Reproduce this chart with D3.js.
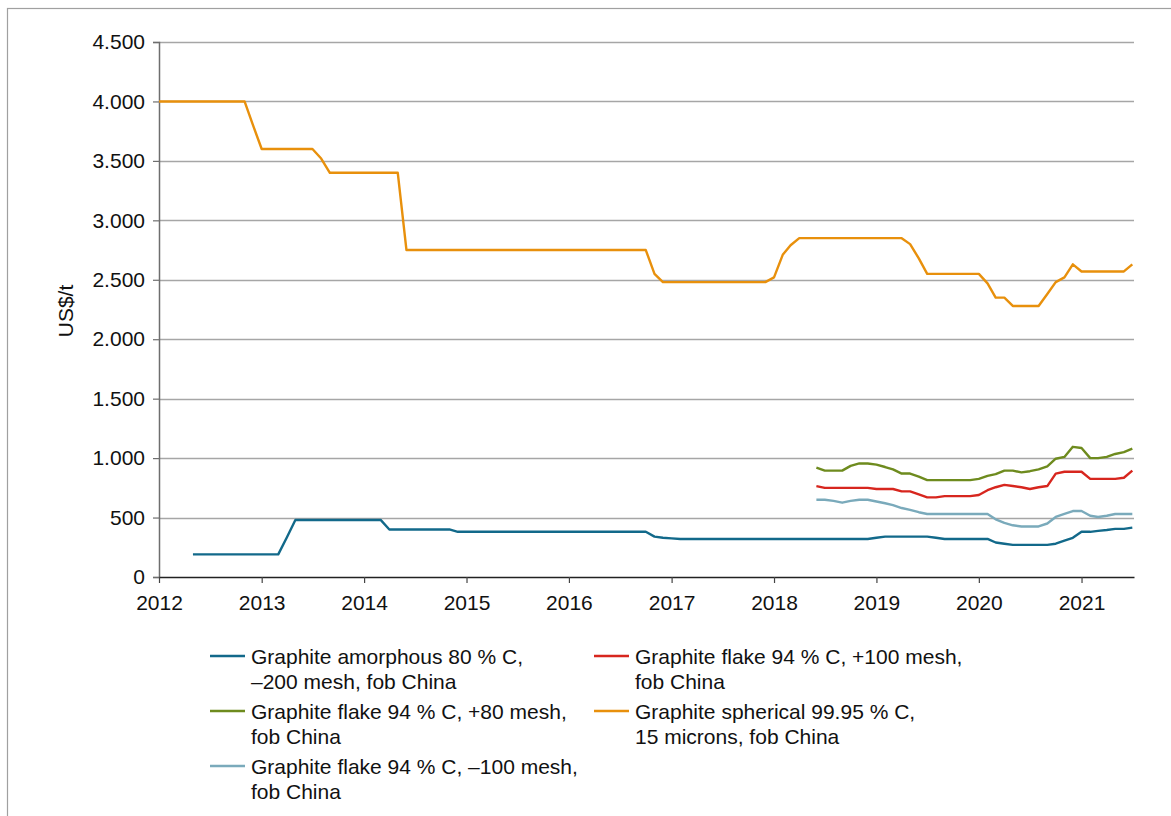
<!DOCTYPE html>
<html>
<head>
<meta charset="utf-8">
<script src="https://cdn.jsdelivr.net/npm/d3@7"></script>
<style>
  body { margin: 0; background: #fff; }
  svg text { font-family: "Liberation Sans", Arial, sans-serif; fill: #111; }
</style>
</head>
<body>
<div id="chart-area"></div>
<script>
// Monthly prices, US$/t. Each series lists values from its first month.
var yearTicks = [2012, 2013, 2014, 2015, 2016, 2017, 2018, 2019, 2020, 2021];
var yTicks = [0, 500, 1000, 1500, 2000, 2500, 3000, 3500, 4000, 4500];

var sphericalStart = "2012-01";
var spherical = [4000, 4000, 4000, 4000, 4000, 4000, 4000, 4000, 4000, 4000, 4000,
  3800, 3600, 3600, 3600, 3600, 3600, 3600, 3600, 3520,
  3400, 3400, 3400, 3400, 3400, 3400, 3400, 3400, 3400,
  2750, 2750, 2750, 2750, 2750, 2750, 2750, 2750, 2750, 2750, 2750, 2750, 2750, 2750, 2750,
  2750, 2750, 2750, 2750, 2750, 2750, 2750, 2750, 2750, 2750, 2750, 2750, 2750, 2750,
  2550, 2480, 2480, 2480, 2480, 2480, 2480, 2480, 2480, 2480, 2480, 2480, 2480, 2480,
  2520, 2710, 2790, 2850, 2850, 2850, 2850, 2850, 2850, 2850, 2850, 2850, 2850, 2850, 2850, 2850,
  2800, 2680, 2550, 2550, 2550, 2550, 2550, 2550, 2550, 2470, 2350, 2350,
  2280, 2280, 2280, 2280, 2380, 2480, 2520, 2630, 2570, 2570, 2570, 2570, 2570, 2570, 2630];

var amorphousStart = "2012-05";
var amorphous = [190, 190, 190, 190, 190, 190, 190, 190, 190, 190, 190,
  335, 480, 480, 480, 480, 480, 480, 480, 480, 480, 480, 480,
  400, 400, 400, 400, 400, 400, 400, 400,
  380, 380, 380, 380, 380, 380, 380, 380, 380, 380, 380, 380, 380, 380, 380, 380, 380, 380, 380, 380, 380, 380, 380,
  340, 330, 325,
  320, 320, 320, 320, 320, 320, 320, 320, 320, 320, 320, 320, 320, 320, 320, 320, 320, 320, 320, 320, 320, 320, 320,
  330, 340, 340, 340, 340, 340, 340, 330, 320, 320, 320, 320, 320, 320,
  290, 280, 270, 270, 270, 270, 270, 280, 305, 330, 380, 380, 388, 395, 405, 405, 415];

var flakeStart = "2018-06";
var flake80 = [920, 895, 895, 895, 935, 955, 955, 945, 925, 905, 870, 870, 845,
  815, 815, 815, 815, 815, 815, 825, 850, 865, 895, 895, 880, 890, 905, 930,
  995, 1010, 1095, 1085, 1000, 1000, 1010, 1035, 1050, 1080];
var flake100 = [765, 750, 750, 750, 750, 750, 750, 740, 740, 740, 720, 720, 695,
  670, 670, 680, 680, 680, 680, 690, 730, 755, 775, 765, 755, 740, 755, 765,
  870, 885, 885, 885, 825, 825, 825, 825, 835, 895];
var flakeMinus100 = [650, 650, 640, 625, 640, 650, 650, 635, 620, 605, 580, 565, 545,
  530, 530, 530, 530, 530, 530, 530, 530, 485, 455, 435, 425, 425, 425, 450,
  505, 530, 555, 555, 515, 505, 515, 530, 530, 530];

var seriesNames = [
  ["Graphite amorphous 80 % C,", "\u2013200 mesh, fob China"],
  ["Graphite flake 94 % C, +80 mesh,", "fob China"],
  ["Graphite flake 94 % C, \u2013100 mesh,", "fob China"],
  ["Graphite flake 94 % C, +100 mesh,", "fob China"],
  ["Graphite spherical 99.95 % C,", "15 microns, fob China"]
];
var seriesColors = ["#12698a", "#6e8b1e", "#7aaabb", "#d7261e", "#e8900c"];

var parseMonth = d3.timeParse("%Y-%m");
function toPoints(start, values) {
  var s = parseMonth(start);
  return values.map(function(v, i) { return { date: d3.timeMonth.offset(s, i), value: v }; });
}
var series = [
  toPoints(amorphousStart, amorphous),
  toPoints(flakeStart, flake80),
  toPoints(flakeStart, flakeMinus100),
  toPoints(flakeStart, flake100),
  toPoints(sphericalStart, spherical)
];

var W = 1171, H = 816;
var margin = { left: 159, right: 37, top: 42, bottom: 239 };
var width = W - margin.left - margin.right,
    height = H - margin.top - margin.bottom;
var fontSize = "21px";

var svg = d3.select("#chart-area").append("svg")
    .attr("width", W)
    .attr("height", H);

// outer frame
svg.append("rect")
    .attr("x", 7.5).attr("y", 8.5)
    .attr("width", W).attr("height", H)
    .attr("fill", "none")
    .attr("stroke", "#a0a0a0")
    .attr("stroke-width", 1.2);

var g = svg.append("g")
    .attr("transform", "translate(" + margin.left + "," + margin.top + ")");

var x = d3.scaleTime()
    .domain([new Date(2012, 0, 1), new Date(2021, 6, 7)])
    .range([0, width]);
var y = d3.scaleLinear().domain([0, 4500]).range([height, 0]);

var fmt = function(d) { return d3.format(",")(d).replace(/,/g, "."); };

// gridlines
g.append("g").selectAll("line")
    .data(yTicks.filter(function(d) { return d > 0; }))
    .enter().append("line")
    .attr("x1", 0).attr("x2", width)
    .attr("y1", function(d) { return Math.round(y(d)) + 0.5; })
    .attr("y2", function(d) { return Math.round(y(d)) + 0.5; })
    .attr("stroke", "#a6a6a6")
    .attr("stroke-width", 1.3);

// y axis
var yAxis = g.append("g")
    .call(d3.axisLeft(y).tickValues(yTicks).tickSize(6).tickPadding(8).tickFormat(fmt));
yAxis.select(".domain").attr("stroke", "#6e6e6e").attr("stroke-width", 1.5);
yAxis.selectAll(".tick line").attr("stroke", "#6e6e6e").attr("stroke-width", 1.2);
yAxis.selectAll("text").attr("font-size", fontSize).attr("fill", "#111");

// x axis
var xAxis = g.append("g")
    .attr("transform", "translate(0," + height + ")")
    .call(d3.axisBottom(x)
      .tickValues(yearTicks.map(function(yr) { return new Date(yr, 0, 1); }))
      .tickSizeInner(6).tickSizeOuter(0).tickPadding(12)
      .tickFormat(d3.timeFormat("%Y")));
xAxis.select(".domain").attr("stroke", "#222").attr("stroke-width", 1.5);
xAxis.selectAll(".tick line").attr("stroke", "#444").attr("stroke-width", 1.2);
xAxis.selectAll("text").attr("font-size", fontSize).attr("fill", "#111");

// y label
g.append("text")
    .attr("transform", "rotate(-90)")
    .attr("x", -269)
    .attr("y", -86)
    .attr("text-anchor", "middle")
    .attr("font-size", fontSize)
    .text("US$/t");

// lines
var line = d3.line()
    .x(function(d) { return x(d.date); })
    .y(function(d) { return y(d.value); });

g.selectAll(".series")
    .data(series)
    .enter().append("path")
    .attr("class", "series")
    .attr("fill", "none")
    .attr("stroke", function(d, i) { return seriesColors[i]; })
    .attr("stroke-width", 2.4)
    .attr("stroke-linejoin", "round")
    .attr("d", line);

// legend: left column items 0,1,2; right column items 3,4
var legendPos = [[210, 656], [210, 711], [210, 766], [594, 656], [594, 711]];
var legend = svg.append("g").selectAll("g")
    .data(seriesNames)
    .enter().append("g")
    .attr("transform", function(d, i) { return "translate(" + legendPos[i][0] + "," + legendPos[i][1] + ")"; });

legend.append("line")
    .attr("x1", 0).attr("x2", 35)
    .attr("stroke", function(d, i) { return seriesColors[i]; })
    .attr("stroke-width", 2.4);

legend.each(function(d) {
  var t = d3.select(this).append("text")
      .attr("x", 41).attr("y", 7.5)
      .attr("font-size", fontSize);
  d.forEach(function(s, j) {
    t.append("tspan").attr("x", 41).attr("dy", j === 0 ? 0 : 25.5).text(s);
  });
});
</script>
</body>
</html>
